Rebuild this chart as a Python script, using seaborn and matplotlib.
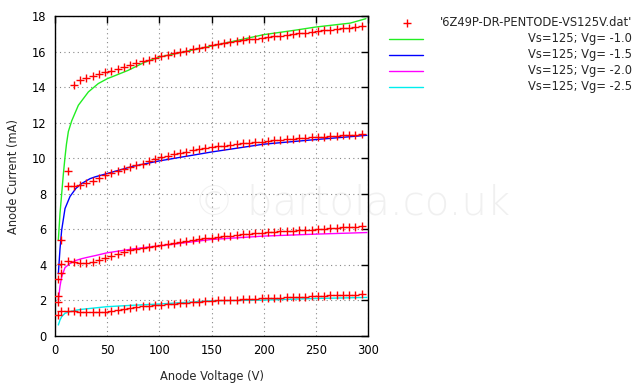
import matplotlib
matplotlib.use("Agg")
import matplotlib.pyplot as plt
import seaborn as sns
import pandas as pd
from matplotlib.lines import Line2D

# ---------------- data ----------------
v_data = [3, 6, 12, 18, 24, 30, 36, 42, 48, 54, 60, 66, 72, 78, 84, 90, 96, 102,
          108, 114, 120, 126, 132, 138, 144, 150, 156, 162, 168, 174, 180, 186,
          192, 198, 204, 210, 216, 222, 228, 234, 240, 246, 252, 258, 264, 270,
          276, 282, 288, 294]

i_vg10 = [3.18, 5.39, 9.3, 14.14, 14.38, 14.5, 14.6, 14.72, 14.83, 14.92, 15.02,
          15.13, 15.25, 15.36, 15.45, 15.55, 15.65, 15.75, 15.83, 15.9, 15.98,
          16.05, 16.12, 16.2, 16.28, 16.35, 16.42, 16.48, 16.53, 16.58, 16.63,
          16.68, 16.72, 16.77, 16.81, 16.86, 16.9, 16.95, 16.99, 17.03, 17.07,
          17.11, 17.16, 17.2, 17.24, 17.28, 17.31, 17.35, 17.39, 17.42]
i_vg15 = [2.25, 4.03, 8.45, 8.45, 8.52, 8.6, 8.7, 8.88, 9.05, 9.15, 9.27, 9.38,
          9.5, 9.6, 9.7, 9.82, 9.95, 10.06, 10.13, 10.22, 10.3, 10.37, 10.45,
          10.52, 10.58, 10.63, 10.67, 10.71, 10.75, 10.79, 10.83, 10.86, 10.9,
          10.94, 10.97, 11.0, 11.03, 11.06, 11.09, 11.12, 11.15, 11.17, 11.2,
          11.22, 11.25, 11.27, 11.29, 11.31, 11.33, 11.35]
i_vg20 = [1.93, 3.52, 4.21, 4.18, 4.1, 4.08, 4.15, 4.28, 4.4, 4.52, 4.63, 4.72,
          4.82, 4.9, 4.97, 5.03, 5.08, 5.13, 5.18, 5.23, 5.29, 5.35, 5.4, 5.45,
          5.5, 5.54, 5.58, 5.62, 5.65, 5.68, 5.71, 5.74, 5.77, 5.8, 5.83, 5.86,
          5.88, 5.9, 5.93, 5.95, 5.97, 5.99, 6.01, 6.04, 6.06, 6.09, 6.11, 6.13,
          6.15, 6.18]
i_vg25 = [1.18, 1.4, 1.42, 1.38, 1.35, 1.35, 1.34, 1.34, 1.35, 1.4, 1.46, 1.52,
          1.58, 1.63, 1.67, 1.7, 1.73, 1.76, 1.79, 1.82, 1.85, 1.88, 1.91, 1.93,
          1.96, 1.98, 2.0, 2.02, 2.04, 2.05, 2.07, 2.08, 2.1, 2.11, 2.13, 2.14,
          2.16, 2.17, 2.19, 2.2, 2.22, 2.23, 2.25, 2.26, 2.28, 2.29, 2.3, 2.32,
          2.33, 2.34]

v_model_g10 = [3.2, 4.8, 6.4, 8, 9.6, 11, 12.8, 16, 22.4, 32, 41.5, 50, 70, 86,
               100, 150, 200, 230, 250, 283, 298]
i_model_g10 = [5.4, 6.9, 8.0, 9.1, 10.07, 10.8, 11.5, 12.1, 12.98, 13.73, 14.2,
               14.47, 14.94, 15.4, 15.69, 16.31, 16.95, 17.2, 17.38, 17.6, 17.85]

v_model = [3.2, 4.8, 6.4, 9.6, 14.4, 20, 25.6, 33.6, 38.4, 50, 75, 100, 150,
           200, 250, 299]
i_model_g15 = [3.5, 4.9, 5.96, 7.17, 7.85, 8.3, 8.58, 8.85, 8.95, 9.14, 9.55,
               9.85, 10.35, 10.79, 11.05, 11.29]
i_model_g20 = [2.02, 2.8, 3.33, 3.85, 4.08, 4.25, 4.35, 4.46, 4.52, 4.68, 4.9,
               5.07, 5.43, 5.62, 5.73, 5.82]
i_model_g25 = [0.62, 0.9, 1.09, 1.28, 1.37, 1.45, 1.5, 1.55, 1.58, 1.65, 1.73,
               1.8, 1.98, 2.02, 2.11, 2.17]

data_label = "'6Z49P-DR-PENTODE-VS125V.dat'"
model_labels = ["Vs=125; Vg= -1.0", "Vs=125; Vg= -1.5",
                "Vs=125; Vg= -2.0", "Vs=125; Vg= -2.5"]
model_colors = ["#22ee22", "#0000ff", "#ff00ff", "#00eeee"]

x_ticks = [0, 50, 100, 150, 200, 250, 300]
y_ticks = [0, 2, 4, 6, 8, 10, 12, 14, 16, 18]

# ---------------- plot ----------------
sns.set_style("white")
plt.rcParams['font.family'] = ['DejaVu Sans']
FS = 8.3

W, H = 640, 387
fig = plt.figure(figsize=(W / 100, H / 100), dpi=100)
ax = fig.add_axes([55 / W, 1 - 336 / H, (368 - 55) / W, (336 - 16) / H])
ax.set_facecolor('none')

# watermark
fig.text(352 / W, 1 - 203 / H, "\u00a9 bartola.co.uk", fontsize=29,
         color="#f0f0f0", ha='center', va='center', zorder=-5,
         fontweight='light')

# model lines
models = [(v_model_g10, i_model_g10), (v_model, i_model_g15),
          (v_model, i_model_g20), (v_model, i_model_g25)]
for (vx, iy), col in zip(models, model_colors):
    sns.lineplot(x=vx, y=iy, ax=ax, color=col, linewidth=1.0, sort=False,
                 estimator=None, zorder=3)

# data points
df = pd.DataFrame({
    "V": v_data * 4,
    "I": i_vg10 + i_vg15 + i_vg20 + i_vg25,
})
sns.scatterplot(data=df, x="V", y="I", ax=ax, marker='+', s=28, color='#ff0000',
                linewidth=1.0, zorder=4, legend=False)

ax.set_xlim(0, 300)
ax.set_ylim(0, 18)
ax.set_xticks(x_ticks)
ax.set_yticks(y_ticks)
ax.tick_params(direction='in', length=5, width=1, top=True, right=True,
               labelsize=FS, colors='black', pad=6)
ax.grid(True, color='#888888', linestyle=(0, (1, 3)), linewidth=0.8)
for sp in ax.spines.values():
    sp.set_visible(True)
    sp.set_color('black')
    sp.set_linewidth(1.0)
ax.set_xlabel("Anode Voltage (V)", fontsize=FS, labelpad=9)
ax.set_ylabel("Anode Current (mA)", fontsize=FS, labelpad=9)

# legend (gnuplot style: sample left, text right-justified)
ys = [22.5, 38.5, 54.5, 70.5, 86.5]
fig.add_artist(Line2D([406.7 / W], [1 - ys[0] / H], marker='+', color='#ff0000',
                      markersize=6, markeredgewidth=1.0, linestyle='none'))
fig.text(632 / W, 1 - ys[0] / H, data_label, ha='right', va='center', fontsize=FS)
for y, lab, col in zip(ys[1:], model_labels, model_colors):
    fig.add_artist(Line2D([389 / W, 423 / W], [1 - y / H, 1 - y / H],
                          color=col, linewidth=1.0))
    fig.text(632 / W, 1 - y / H, lab, ha='right', va='center', fontsize=FS)

fig.savefig("out.png", dpi=100)
